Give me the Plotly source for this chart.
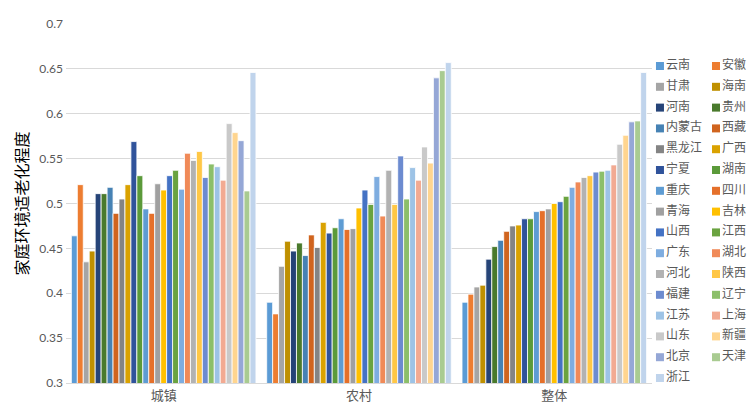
import plotly.graph_objs as go

categories = ["城镇", "农村", "整体"]

provinces = [
    "云南", "安徽", "甘肃", "海南", "河南", "贵州", "内蒙古", "西藏",
    "黑龙江", "广西", "宁夏", "湖南", "重庆", "四川", "青海", "吉林",
    "山西", "江西", "广东", "湖北", "河北", "陕西", "福建", "辽宁",
    "江苏", "上海", "山东", "新疆", "北京", "天津", "浙江",
]

urban = [
    0.464, 0.521, 0.435, 0.447, 0.511, 0.511, 0.518, 0.489,
    0.505, 0.521, 0.569, 0.531, 0.494, 0.489, 0.522, 0.515,
    0.531, 0.537, 0.516, 0.556, 0.548, 0.558, 0.529, 0.544,
    0.541, 0.526, 0.589, 0.579, 0.570, 0.514, 0.646,
]

rural = [
    0.390, 0.377, 0.430, 0.458, 0.447, 0.456, 0.442, 0.465,
    0.451, 0.479, 0.467, 0.473, 0.483, 0.471, 0.472, 0.495,
    0.515, 0.499, 0.530, 0.486, 0.537, 0.499, 0.553, 0.505,
    0.540, 0.526, 0.563, 0.545, 0.640, 0.648, 0.657,
]

overall = [
    0.390, 0.399, 0.407, 0.409, 0.438, 0.452, 0.459, 0.469,
    0.475, 0.476, 0.483, 0.483, 0.491, 0.492, 0.494, 0.500,
    0.502, 0.508, 0.518, 0.524, 0.529, 0.531, 0.535, 0.536,
    0.537, 0.543, 0.566, 0.576, 0.591, 0.592, 0.646,
]

colors = [
    "#5B9BD5", "#ED7D31", "#A5A5A5", "#BF9000", "#264478", "#4A7A2C", "#4682B4", "#D0641E",
    "#848484", "#DAA200", "#30539B", "#5B9A3A", "#5E9CD3", "#E5702A", "#A0A0A0", "#FFC000",
    "#4472C4", "#6AA340", "#7EADE0", "#F08A58", "#B2B2B2", "#FFC746", "#6C8BD0", "#8CBF6A",
    "#9DC3E6", "#F2AA92", "#C9C9C9", "#FFD58F", "#95A7D6", "#A9CB91", "#C0D4EC",
]

fig = go.Figure()

for i, name in enumerate(provinces):
    fig.add_trace(
        go.Bar(
            x=categories,
            y=[urban[i], rural[i], overall[i]],
            name=name,
            marker=dict(color=colors[i], line=dict(color="white", width=0.8)),
            showlegend=False,
        )
    )

# two-column legend drawn on a hidden helper axis
fig.add_trace(
    go.Scatter(
        x=[i % 2 for i in range(len(provinces))],
        y=[i // 2 for i in range(len(provinces))],
        mode="markers+text",
        text=provinces,
        textposition="middle right",
        textfont=dict(family="Noto Sans CJK SC", size=12, color="#595959"),
        marker=dict(symbol="square", size=8, color=colors),
        xaxis="x2",
        yaxis="y2",
        cliponaxis=False,
        showlegend=False,
        hoverinfo="skip",
    )
)

fig.update_layout(
    width=748,
    height=414,
    margin=dict(l=66, r=0, t=24, b=31),
    paper_bgcolor="white",
    plot_bgcolor="white",
    barmode="group",
    bargap=0.055,
    bargroupgap=0,
    xaxis=dict(
        domain=[0, 0.8592],
        showgrid=False,
        showline=True,
        linecolor="#D9D9D9",
        linewidth=1,
        ticks="",
        tickfont=dict(family="Noto Sans CJK SC", size=13, color="#595959"),
    ),
    yaxis=dict(
        range=[0.3, 0.7],
        dtick=0.05,
        showgrid=True,
        gridcolor="#D9D9D9",
        gridwidth=1,
        zeroline=False,
        showline=False,
        ticks="",
        ticklabelstandoff=2,
        tickfont=dict(family="Lato", size=12, color="#595959"),
        title=dict(
            text="家庭环境适老化程度",
            font=dict(family="Noto Sans CJK SC", size=16, color="black"),
            standoff=6,
        ),
        automargin=False,
    ),
    xaxis2=dict(domain=[0.8636, 1], range=[-0.089, 1.571], visible=False, anchor="y2"),
    yaxis2=dict(domain=[0, 1], range=[15.24, -2.02], visible=False, anchor="x2"),
)

# drop the default 8px body margin so the figure fills the window exactly
fig.write_html(
    "out.html",
    config={"displayModeBar": False},
    post_script="document.body.style.margin='0';document.body.style.overflow='hidden';",
)
